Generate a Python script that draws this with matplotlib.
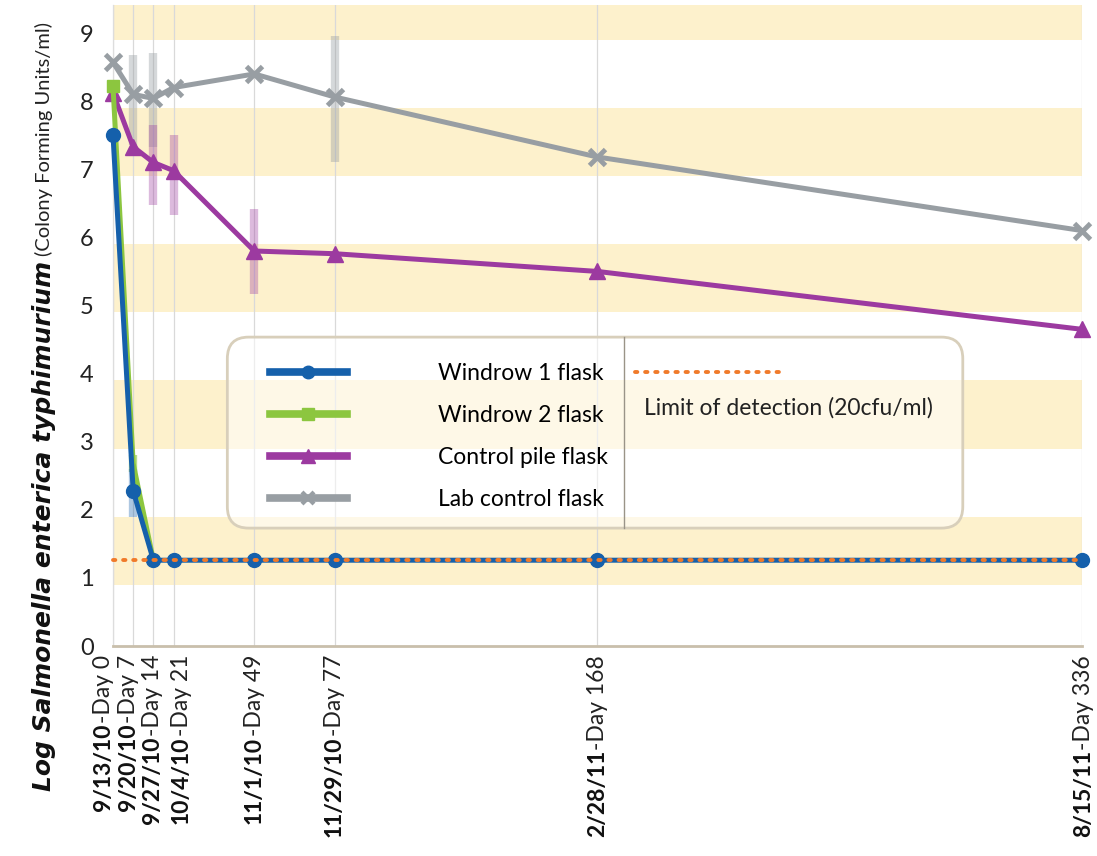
import matplotlib
matplotlib.use("Agg")
import matplotlib.pyplot as plt
from matplotlib.patches import FancyBboxPatch
from matplotlib.lines import Line2D

plt.rcParams['font.family'] = ['Lato', 'DejaVu Sans']

# sampling days and dates
days = [0, 7, 14, 21, 49, 77, 168, 336]
dates = ["9/13/10", "9/20/10", "9/27/10", "10/4/10", "11/1/10", "11/29/10", "2/28/11", "8/15/11"]

# log cfu/ml
windrow1 = [7.5, 2.28, 1.26, 1.26, 1.26, 1.26, 1.26, 1.26]
windrow2 = [8.22, 2.68, 1.26]          # later points sit under windrow 1
control_pile = [8.12, 7.33, 7.1, 6.98, 5.8, 5.76, 5.5, 4.65]
lab_control = [8.57, 8.1, 8.04, 8.2, 8.4, 8.06, 7.18, 6.1]
lod = 1.26

# error bars (day, low, high)
w1_err_days, w1_err_lo, w1_err_hi = [7], [1.9], [2.6]
w2_err_days, w2_err_lo, w2_err_hi = [7], [2.55], [2.8]
cp_err_days, cp_err_lo, cp_err_hi = [14, 21, 49], [6.47, 6.33, 5.17], [7.65, 7.5, 6.42]
lab_err_days, lab_err_lo, lab_err_hi = [7, 14, 77], [7.35, 7.33, 7.1], [8.68, 8.7, 8.95]

band_lo = [0.9, 2.9, 4.9, 6.9, 8.9]

BLUE = "#1560ab"
GREEN = "#8cc63f"
PURPLE = "#9c3aa0"
GRAY = "#989ea3"
ORANGE = "#f07a2a"
BAND = "#fdf1cc"

fig = plt.figure(figsize=(10.97, 8.56), dpi=100)
ax = fig.add_axes([0.103, 0.2453, 0.8833, 0.7487])

for b in band_lo:
    ax.axhspan(b, b + 1, color=BAND, lw=0, zorder=0)
for d in days:
    ax.axvline(d, color="#d9d9d9", lw=0.9, zorder=1)

ax.vlines(lab_err_days, lab_err_lo, lab_err_hi, colors=GRAY, lw=6, alpha=0.4, zorder=2)
ax.vlines(cp_err_days, cp_err_lo, cp_err_hi, colors=PURPLE, lw=6, alpha=0.35, zorder=2)
ax.vlines(w2_err_days, w2_err_lo, w2_err_hi, colors=GREEN, lw=6, alpha=0.6, zorder=2)
ax.vlines(w1_err_days, w1_err_lo, w1_err_hi, colors=BLUE, lw=6, alpha=0.35, zorder=2)

lw = 3.6
ax.plot(days, lab_control, color=GRAY, lw=lw, marker="x", ms=11, mew=3.5, zorder=3, clip_on=False)
ax.plot(days, control_pile, color=PURPLE, lw=lw, marker="^", ms=11, zorder=4, clip_on=False)
ax.plot(days[:len(windrow2)], windrow2, color=GREEN, lw=lw, marker="s", ms=9, zorder=5,
        markevery=[0], clip_on=False)
ax.plot(days, windrow1, color=BLUE, lw=lw, marker="o", ms=10, zorder=6, clip_on=False)
ax.plot([days[0], days[-1]], [lod, lod], color=ORANGE, lw=2.8, ls=(0, (0.6, 2.0)),
        dash_capstyle="round", zorder=7, clip_on=False)

ax.set_xlim(0, 336)
ax.set_ylim(0, 9.41)
ax.set_yticks(range(10))
ax.tick_params(axis="y", length=0, pad=14, labelsize=17, labelcolor="#222222")
ax.set_xticks([])
for s in ["top", "right"]:
    ax.spines[s].set_visible(False)
ax.spines["left"].set_color("#dddddd")
ax.spines["left"].set_linewidth(0.9)
ax.spines["bottom"].set_color("#c9bfab")
ax.spines["bottom"].set_linewidth(2)

# x labels: bold date + regular "-Day N"
label_dx = [-9, -5, -1, 8, 0, -1, 0, 2]
for d, date, dx in zip(days, dates, label_dx):
    t1 = ax.annotate("-Day %d" % d, xy=(d, 0), xycoords=("data", "axes fraction"),
                     xytext=(dx, -9), textcoords="offset pixels", rotation=90,
                     ha="center", va="top", fontsize=16.5, color="#222222")
    ax.annotate(date, xy=(0.5, 0), xycoords=t1, xytext=(0, 0), textcoords="offset pixels",
                rotation=90, ha="center", va="top", fontsize=16.5, fontweight="bold", color="#111111")

# y label: bold italic + regular
y1 = fig.text(0.040, 1 - 791 / 856, "Log Salmonella enterica typhimurium", rotation=90,
              ha="center", va="bottom", fontsize=18, fontweight="bold", fontstyle="italic",
              family=["DejaVu Sans"], color="#111111")
ax.annotate("(Colony Forming Units/ml)", xy=(0.5, 1), xycoords=y1, xytext=(0, 5),
            textcoords="offset pixels", rotation=90, ha="center", va="bottom",
            fontsize=14.5, color="#222222", annotation_clip=False)

# legend box
box = FancyBboxPatch((0.118, 0.184), 0.759, 0.298,
                     boxstyle="round,pad=0,rounding_size=0.022", mutation_aspect=977 / 641,
                     transform=ax.transAxes, fc=(1, 1, 1, 0.55), ec="#d8cfbb", lw=2, zorder=8)
ax.add_patch(box)
ax.plot([0.527, 0.527], [0.184, 0.482], transform=ax.transAxes, color="#9a9488", lw=1, zorder=9)

handles = [
    Line2D([], [], color=BLUE, lw=5.5, marker="o", ms=9),
    Line2D([], [], color=GREEN, lw=5.5, marker="s", ms=8),
    Line2D([], [], color=PURPLE, lw=5.5, marker="^", ms=10),
    Line2D([], [], color=GRAY, lw=5.5, marker="x", ms=8, mew=3),
]
labels = ["Windrow 1 flask", "Windrow 2 flask", "Control pile flask", "Lab control flask"]
leg = ax.legend(handles, labels, loc="upper left", bbox_to_anchor=(0.162, 0.442), frameon=False,
                fontsize=16.5, handlelength=3.35, handletextpad=4.0, labelspacing=0.92,
                borderpad=0, borderaxespad=0, numpoints=1)
leg.set_zorder(10)

ax.plot([0.539, 0.688], [0.427, 0.427], transform=ax.transAxes, color=ORANGE, lw=2.8,
        ls=(0, (0.6, 2.0)), dash_capstyle="round", zorder=10)
ax.text(0.548, 0.371, "Limit of detection (20cfu/ml)", transform=ax.transAxes,
        ha="left", va="center", fontsize=16.5, color="#222222", zorder=10)

fig.savefig("out.png", dpi=100)
